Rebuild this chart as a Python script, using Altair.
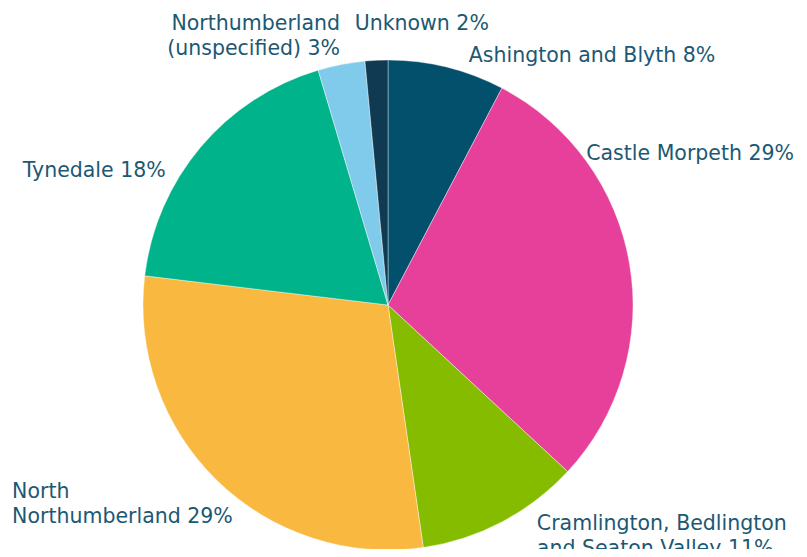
import altair as alt
import pandas as pd

# ---- data ----
categories = [
    "Ashington and Blyth",
    "Castle Morpeth",
    "Cramlington, Bedlington and Seaton Valley",
    "North Northumberland",
    "Tynedale",
    "Northumberland (unspecified)",
    "Unknown",
]
values = [7.7, 29.2, 10.8, 29.2, 18.5, 3.1, 1.5]
labels = [
    "Ashington and Blyth 8%",
    "Castle Morpeth 29%",
    "Cramlington, Bedlington\nand Seaton Valley 11%",
    "North\nNorthumberland 29%",
    "Tynedale 18%",
    "Northumberland\n(unspecified) 3%",
    "Unknown 2%",
]
colors = ["#03506c", "#e6409a", "#85bc00", "#f9b83f", "#00b38a", "#80cbeb", "#0f3a51"]

# ---- styles ----
FONT = "DejaVu Sans"
TEXT_COLOR = "#1d5873"
CX, CY = 380, 297
R = 245
LABEL_R = 262
label_style = {  # align, dx, dy
    "Ashington and Blyth": ("left", 18, 11),
    "Castle Morpeth": ("left", -60, -101),
    "Cramlington, Bedlington and Seaton Valley": ("left", 27, -7),
    "North Northumberland": ("left", -193, 5),
    "Tynedale": ("right", -22, 41),
    "Northumberland (unspecified)": ("right", 2, -18),
    "Unknown": ("left", -21, -13),
}

df = pd.DataFrame({
    "category": categories,
    "value": values,
    "label": labels,
    "order": list(range(len(categories))),
})

base = alt.Chart(df).transform_window(
    cum="sum(value)", sort=[alt.SortField("order")], frame=[None, 0]
).transform_calculate(
    start="datum.cum - datum.value", mid="datum.cum - datum.value / 2"
)

theta_scale = alt.Scale(domain=[0, sum(values)])

arcs = base.mark_arc(outerRadius=R, stroke="white", strokeWidth=0.4).encode(
    theta=alt.Theta("start:Q", scale=theta_scale),
    theta2="cum:Q",
    color=alt.Color("category:N", scale=alt.Scale(domain=categories, range=colors), legend=None),
    x=alt.value(CX),
    y=alt.value(CY),
)

texts = []
for cat in categories:
    align, dx, dy = label_style[cat]
    texts.append(
        base.transform_filter(alt.datum.category == cat).mark_text(
            align=align, baseline="alphabetic", dx=dx, dy=dy, radius=LABEL_R,
            font=FONT, fontSize=20.5, color=TEXT_COLOR, lineBreak="\n", lineHeight=25,
        ).encode(
            theta=alt.Theta("mid:Q", scale=theta_scale),
            text="label:N",
            x=alt.value(CX),
            y=alt.value(CY),
        )
    )

chart = alt.layer(arcs, *texts).properties(
    width=791, height=541, padding=0, autosize=alt.AutoSizeParams(type="none")
).configure_view(stroke=None)

chart.save("out.html", embed_options={"renderer": "svg", "actions": False})
